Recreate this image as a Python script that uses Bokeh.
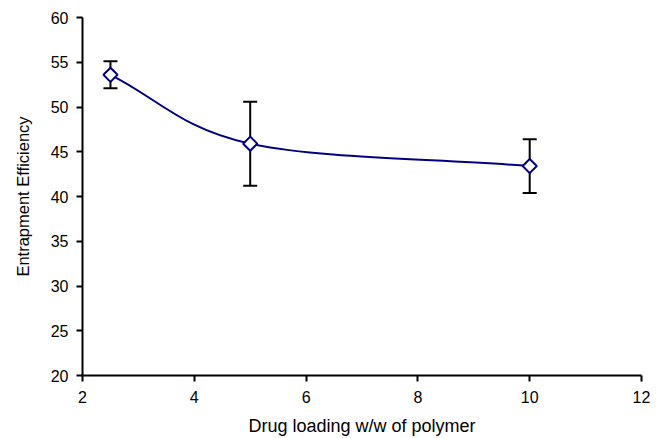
from bokeh.plotting import figure
from bokeh.models import ColumnDataSource, Range1d, FixedTicker, Whisker, TeeHead
from bokeh.embed import file_html
from bokeh.resources import INLINE
import math

# Data
drug_loading = [2.5, 5.0, 10.0]
efficiency = [53.6, 45.9, 43.4]
error = [1.5, 4.7, 3.0]

x_ticks = [2, 4, 6, 8, 10, 12]
y_ticks = [20, 25, 30, 35, 40, 45, 50, 55, 60]

FONT = "Liberation Sans"

p = figure(width=664, height=438, output_backend="svg", toolbar_location=None,
           x_range=Range1d(2, 12), y_range=Range1d(20, 60),
           min_border_left=82, min_border_right=23, min_border_top=17, min_border_bottom=61)
p.outline_line_color = None
p.xgrid.visible = False
p.ygrid.visible = False
p.background_fill_color = "white"
p.border_fill_color = "white"

for ax in (p.xaxis[0], p.yaxis[0]):
    ax.axis_line_width = 2
    ax.axis_line_color = "black"
    ax.major_tick_line_width = 2
    ax.major_tick_line_color = "black"
    ax.major_tick_out = 6
    ax.major_tick_in = 0
    ax.minor_tick_line_color = None
    ax.major_label_text_font = FONT
    ax.major_label_text_font_size = "16px"
    ax.major_label_text_color = "black"
    ax.axis_label_text_font = FONT
    ax.axis_label_text_font_style = "normal"
    ax.axis_label_text_color = "black"

p.xaxis.ticker = FixedTicker(ticks=x_ticks)
p.yaxis.ticker = FixedTicker(ticks=y_ticks)
p.xaxis.axis_label = "Drug loading w/w of polymer"
p.yaxis.axis_label = "Entrapment Efficiency"
p.xaxis.axis_label_text_font_size = "18px"
p.yaxis.axis_label_text_font_size = "16.5px"
p.xaxis.major_label_standoff = 9
p.yaxis.major_label_standoff = 8
p.xaxis.axis_label_standoff = 10
p.yaxis.axis_label_standoff = 16

# Smoothed line (Catmull-Rom style bezier through the data points)
n = len(drug_loading)
x0, y0, x1, y1, cx0, cy0, cx1, cy1 = [], [], [], [], [], [], [], []
for i in range(n - 1):
    xa, ya = drug_loading[i], efficiency[i]
    xb, yb = drug_loading[i + 1], efficiency[i + 1]
    if i == 0:
        ta = (xb - xa, yb - ya)
    else:
        ta = ((xb - drug_loading[i - 1]) / 2, (yb - efficiency[i - 1]) / 2)
    if i + 2 < n:
        tb = ((drug_loading[i + 2] - xa) / 2, (efficiency[i + 2] - ya) / 2)
    else:
        tb = (xb - xa, yb - ya)
    x0.append(xa); y0.append(ya); x1.append(xb); y1.append(yb)
    cx0.append(xa + ta[0] / 3); cy0.append(ya + ta[1] / 3)
    cx1.append(xb - tb[0] / 3); cy1.append(yb - tb[1] / 3)

p.bezier(x0=x0, y0=y0, x1=x1, y1=y1, cx0=cx0, cy0=cy0, cx1=cx1, cy1=cy1,
         line_color="#000080", line_width=2)

src = ColumnDataSource(dict(
    x=drug_loading, y=efficiency,
    upper=[v + e for v, e in zip(efficiency, error)],
    lower=[v - e for v, e in zip(efficiency, error)],
))

w = Whisker(base="x", upper="upper", lower="lower", source=src,
            line_color="black", line_width=2, level="underlay",
            upper_head=TeeHead(size=14, line_color="black", line_width=2),
            lower_head=TeeHead(size=14, line_color="black", line_width=2))
p.add_layout(w)

p.scatter(x="x", y="y", source=src, marker="square", size=10, angle=math.pi / 4,
          fill_color="white", line_color="#000080", line_width=2)

open("out.html", "w").write(file_html(p, INLINE))
